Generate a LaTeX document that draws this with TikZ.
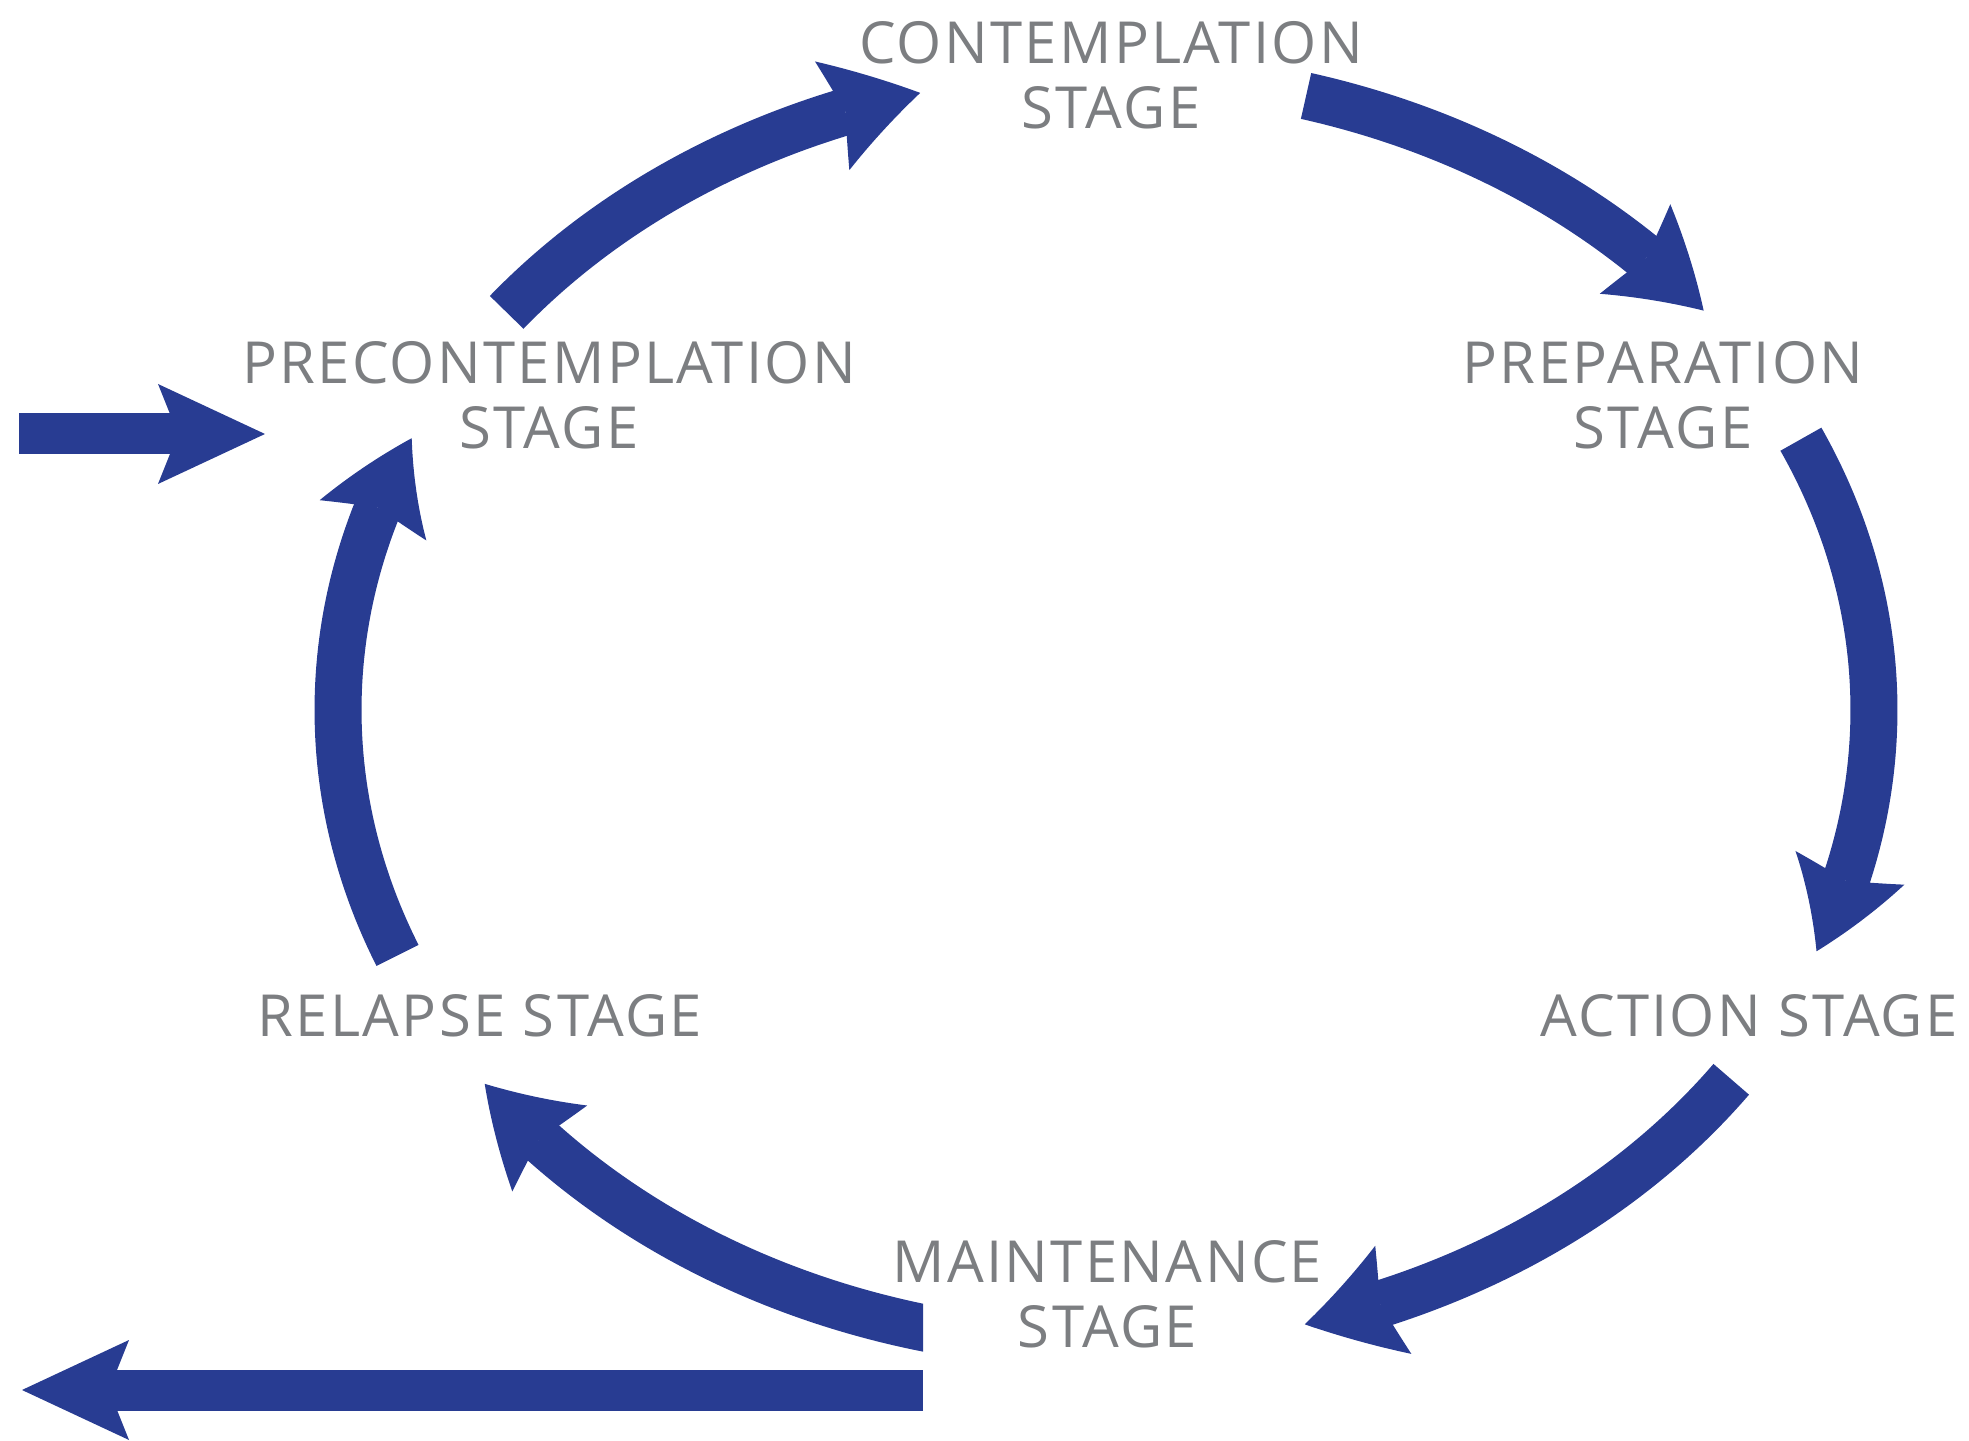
\documentclass[tikz,border=0pt]{standalone}
\usepackage{fontspec}
\setmainfont{Open Sans}[LetterSpace=4.0]
\usetikzlibrary{arrows.meta,bending,calc}
\definecolor{cycleblue}{RGB}{40,60,146}
\definecolor{labelgray}{RGB}{124,126,129}
\begin{document}
\begin{tikzpicture}[x=1pt,y=1pt,
  stagelabel/.style={text=labelgray, font=\fontsize{58}{65}\selectfont, align=center, inner sep=0pt},
  cyclearrow/.style={draw=cycleblue, line width=47pt,
    -{Stealth[length=92pt,width=114pt,inset=14pt,line width=0pt,bend]}},
  flowarrow/.style={draw=cycleblue, line width=41pt,
    -{Stealth[length=107pt,width=100pt,inset=20pt,line width=0pt]}}]
\useasboundingbox (0,0) rectangle (1969,1440);

% centre of the elliptical cycle
\coordinate (c) at (1106,730);

% stage labels
\node[stagelabel] (contemplation) at (1111,1364.5) {CONTEMPLATION\\STAGE};
\node[stagelabel] (precontemplation) at (549,1044.5) {PRECONTEMPLATION\\STAGE};
\node[stagelabel] (preparation) at (1663,1044.5) {PREPARATION\\STAGE};
\node[stagelabel] (action) at (1749,424) {ACTION STAGE};
\node[stagelabel] (relapse) at (480,424) {RELAPSE STAGE};
\node[stagelabel] (maintenance) at (1107.5,145.4) {MAINTENANCE\\STAGE};

% start points of the cycle arrows on the ellipse
\path (c) ++(141.3:768pt and 636pt) coordinate (a0);
\path (c) ++(74.9:768pt and 636pt) coordinate (b0);
\path (c) ++(25.2:768pt and 636pt) coordinate (c0);
\path (c) ++(-35.5:768pt and 636pt) coordinate (d0);
\path (c) ++(-101:768pt and 636pt) coordinate (e0);
\path (c) ++(-157.3:768pt and 636pt) coordinate (f0);

% cycle arrows
\draw[cyclearrow] (a0) arc[start angle=141.3, end angle=104, x radius=768pt, y radius=636pt];
\draw[cyclearrow] (b0) arc[start angle=74.9, end angle=38.9, x radius=768pt, y radius=636pt];
\draw[cyclearrow] (c0) arc[start angle=25.2, end angle=-22.3, x radius=768pt, y radius=636pt];
\draw[cyclearrow] (d0) arc[start angle=-35.5, end angle=-75, x radius=768pt, y radius=636pt];
\begin{scope}
  \clip (0,0) rectangle (923,1440);
  \draw[cyclearrow] (e0) arc[start angle=-101, end angle=-144, x radius=768pt, y radius=636pt];
\end{scope}
\draw[cyclearrow] (f0) arc[start angle=-157.3, end angle=-205.3, x radius=768pt, y radius=636pt];

% entry and exit arrows
\coordinate (entry) at (19,1006);
\coordinate (entrytip) at (265,1006);
\coordinate (exit) at (923,50);
\coordinate (exittip) at (22,50);
\draw[flowarrow] (entry) -- (entrytip);
\draw[flowarrow] (exit) -- (exittip);
\end{tikzpicture}
\end{document}
